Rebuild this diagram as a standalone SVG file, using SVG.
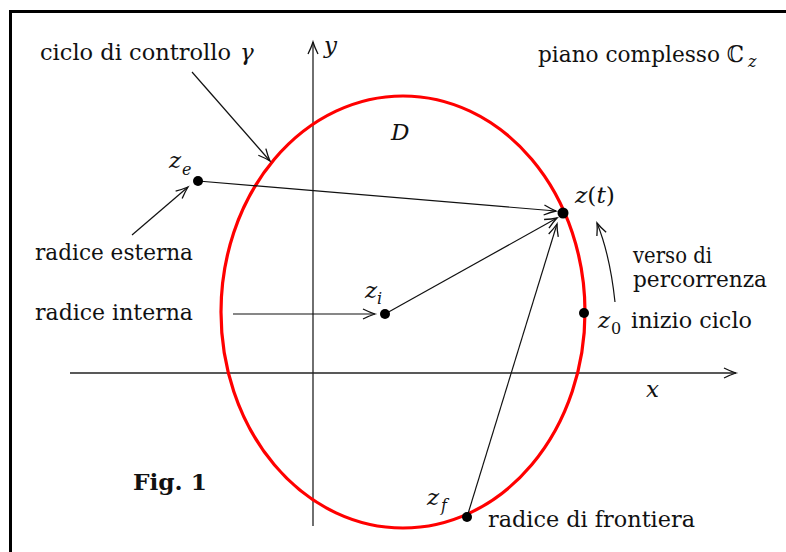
<svg xmlns="http://www.w3.org/2000/svg" width="786" height="552" viewBox="0 0 786 552">
<style>
.t{font-family:"DejaVu Serif","Liberation Serif",serif;font-size:23px;fill:#111}
.m{font-family:"DejaVu Serif","Liberation Serif",serif;font-style:italic;font-size:23px;fill:#111}
.s{font-family:"DejaVu Serif","Liberation Serif",serif;font-style:italic;font-size:16px;fill:#111}
.sr{font-family:"DejaVu Serif","Liberation Serif",serif;font-size:16px;fill:#111}
.b{font-family:"DejaVu Serif","Liberation Serif",serif;font-weight:bold;font-size:23px;fill:#111}
.up{font-style:normal}
.ln{stroke:#111;stroke-width:1.2;fill:none}
.ax{stroke:#222;stroke-width:1.3;fill:none}
.dot{fill:#000}
</style>
<defs>
<marker id="ar" markerUnits="userSpaceOnUse" markerWidth="20" markerHeight="16" refX="0" refY="0" viewBox="-14 -8 16 16" orient="auto" overflow="visible">
<path d="M-12,-5 Q-5,-1.5 0,0 Q-5,1.5 -12,5" fill="none" stroke="#111" stroke-width="1.3"/>
</marker>
</defs>
<rect width="786" height="552" fill="#fff"/>
<g id="frame">
<line x1="10" y1="11.5" x2="786" y2="11.5" stroke="#000" stroke-width="3"/>
<line x1="10.5" y1="10" x2="10.5" y2="552" stroke="#000" stroke-width="3"/>
</g>
<g id="axes">
<line class="ax" x1="70" y1="373" x2="736" y2="373" marker-end="url(#ar)"/>
<line class="ax" x1="313" y1="526" x2="313" y2="42" marker-end="url(#ar)"/>
<text class="m" x="646" y="397">x</text>
<text class="m" x="324" y="53">y</text>
</g>
<g id="cycle">
<ellipse cx="403" cy="312" rx="182" ry="216" fill="none" stroke="#ff0000" stroke-width="3.2"/>
<text class="m" x="391" y="140">D</text>
</g>
<g id="connectors">
<line class="ln" x1="192" y1="72" x2="270" y2="161" marker-end="url(#ar)"/>
<line class="ln" x1="132" y1="235" x2="188" y2="187" marker-end="url(#ar)"/>
<line class="ln" x1="198" y1="181" x2="556" y2="211" marker-end="url(#ar)"/>
<line class="ln" x1="233" y1="314" x2="375" y2="314" marker-end="url(#ar)"/>
<line class="ln" x1="385" y1="314" x2="557" y2="218" marker-end="url(#ar)"/>
<line class="ln" x1="467" y1="517" x2="557" y2="224" marker-end="url(#ar)"/>
<path class="ln" d="M615,302 Q610,255 597,223" marker-end="url(#ar)"/>
</g>
<g id="label-ciclo">
<text class="t" x="40" y="60" textLength="191" lengthAdjust="spacingAndGlyphs">ciclo di controllo</text>
<text class="m" x="240" y="60">γ</text>
</g>
<g id="label-piano">
<text class="t" x="538" y="62"><tspan textLength="206" lengthAdjust="spacingAndGlyphs">piano complesso ℂ</tspan><tspan class="s" dx="4" dy="5" style="font-size:16px;font-style:italic">z</tspan></text>
</g>
<g id="node-ze">
<circle class="dot" cx="198" cy="181" r="5"/>
<text class="m" x="169" y="168">z</text>
<text class="s" x="182" y="175">e</text>
</g>
<g id="label-esterna">
<text class="t" x="35" y="260" textLength="158" lengthAdjust="spacingAndGlyphs">radice esterna</text>
</g>
<g id="label-interna">
<text class="t" x="35" y="320" textLength="158" lengthAdjust="spacingAndGlyphs">radice interna</text>
</g>
<g id="node-zi">
<circle class="dot" cx="385" cy="314" r="5"/>
<text class="m" x="365" y="298">z</text>
<text class="s" x="377" y="304">i</text>
</g>
<g id="node-zt">
<circle class="dot" cx="563" cy="213" r="5.5"/>
<text class="m" x="575" y="203" textLength="40" lengthAdjust="spacingAndGlyphs">z<tspan class="up">(</tspan>t<tspan class="up">)</tspan></text>
</g>
<g id="label-verso">
<text class="t" x="633" y="263" textLength="79" lengthAdjust="spacingAndGlyphs">verso di</text>
<text class="t" x="633" y="287" textLength="134" lengthAdjust="spacingAndGlyphs">percorrenza</text>
</g>
<g id="node-z0">
<circle class="dot" cx="584" cy="313" r="5"/>
<text class="m" x="598" y="328">z</text>
<text class="sr" x="611" y="334">0</text>
<text class="t" x="631" y="328" textLength="121" lengthAdjust="spacingAndGlyphs">inizio ciclo</text>
</g>
<g id="node-zf">
<circle class="dot" cx="467" cy="517" r="5"/>
<text class="m" x="427" y="505">z</text>
<text class="s" x="441" y="511">f</text>
<text class="t" x="488" y="527" textLength="207" lengthAdjust="spacingAndGlyphs">radice di frontiera</text>
</g>
<g id="caption">
<text class="b" x="133" y="490" textLength="74" lengthAdjust="spacingAndGlyphs">Fig. 1</text>
</g>
</svg>
